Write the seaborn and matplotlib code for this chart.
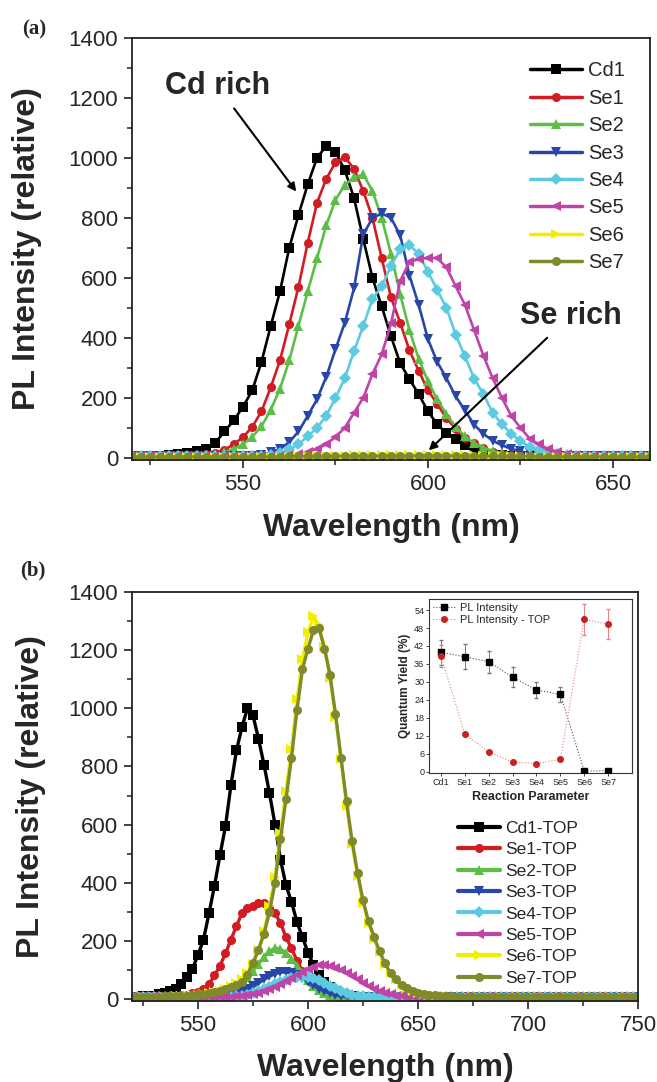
import numpy as np
import pandas as pd
import seaborn as sns
import matplotlib.pyplot as plt
from matplotlib.lines import Line2D
from matplotlib.ticker import MultipleLocator

# --- style ---
sns.set_theme(style="ticks")
plt.rcParams["font.family"] = ["Liberation Sans", "DejaVu Sans"]

# --- DATA: panel (a), PL spectra, 520-660 nm every 2.5 nm ---
wl_a = np.arange(520, 660.1, 2.5)
labels_a = ["Cd1", "Se1", "Se2", "Se3", "Se4", "Se5", "Se6", "Se7"]

cd1_a = [5, 5, 6, 7, 9, 12, 16, 22,
         30, 50, 88, 125, 170, 225, 320, 440,
         555, 700, 810, 912, 1000, 1040, 1020, 960,
         867, 730, 600, 505, 405, 315, 262, 212,
         155, 112, 82, 62, 44, 28, 18, 11,
         8, 6, 5, 5, 5, 5, 5, 5,
         5, 5, 5, 5, 5, 5, 5, 5,
         5]
se1_a = [5, 5, 5, 6, 6, 7, 9, 11,
         12, 17, 27, 45, 69, 103, 155, 235,
         325, 445, 570, 717, 850, 930, 985, 1003,
         964, 890, 800, 665, 535, 450, 358, 290,
         225, 180, 132, 97, 65, 50, 34, 18,
         12, 8, 6, 5, 5, 5, 5, 5,
         5, 5, 5, 5, 5, 5, 5, 5,
         5]
se2_a = [5, 5, 5, 5, 5, 6, 7, 8,
         10, 14, 20, 30, 45, 70, 105, 160,
         230, 325, 440, 555, 665, 775, 860, 910,
         935, 945, 890, 800, 680, 545, 425, 330,
         255, 195, 145, 103, 72, 48, 34, 23,
         15, 10, 7, 6, 5, 5, 5, 5,
         5, 5, 5, 5, 5, 5, 5, 5,
         5]
se3_a = [5, 5, 5, 5, 5, 5, 5, 5,
         5, 5, 5, 5, 5, 6, 10, 18,
         30, 52, 88, 140, 195, 270, 362, 450,
         565, 745, 800, 815, 800, 742, 608, 510,
         395, 320, 265, 205, 158, 110, 80, 57,
         42, 30, 22, 15, 10, 7, 6, 5,
         5, 5, 5, 5, 5, 5, 5, 5,
         5]
se4_a = [5, 5, 5, 5, 5, 5, 5, 5,
         5, 5, 5, 5, 5, 5, 6, 8,
         15, 28, 45, 72, 100, 140, 200, 265,
         355, 440, 530, 572, 640, 695, 710, 680,
         620, 560, 500, 410, 338, 264, 212, 150,
         112, 80, 57, 36, 25, 17, 12, 9,
         7, 6, 5, 5, 5, 5, 5, 5,
         5]
se5_a = [5, 5, 5, 5, 5, 5, 5, 5,
         5, 5, 5, 5, 5, 5, 5, 5,
         6, 8, 12, 20, 30, 45, 70, 100,
         150, 200, 280, 345, 448, 590, 654, 662,
         667, 666, 635, 572, 510, 425, 340, 265,
         200, 140, 100, 64, 45, 30, 20, 12,
         9, 7, 6, 5, 5, 5, 5, 5,
         5]
se6_a = [3, 3, 3, 3, 3, 3, 3, 3,
         3, 3, 3, 3, 3, 3, 3, 4,
         4, 4, 5, 5, 6, 6, 7, 7,
         8, 8, 9, 9, 9, 10, 10, 10,
         10, 10, 9, 9, 8, 8, 7, 6,
         6, 5, 5, 4, 4, 4, 3, 3,
         3, 3, 3, 3, 3, 3, 3, 3,
         3]
se7_a = [4, 4, 4, 4, 4, 4, 4, 4,
         4, 4, 4, 4, 4, 4, 4, 4,
         4, 5, 5, 5, 5, 5, 6, 6,
         6, 6, 6, 7, 7, 7, 7, 7,
         7, 7, 7, 7, 6, 6, 6, 6,
         5, 5, 5, 5, 4, 4, 4, 4,
         4, 4, 4, 4, 4, 4, 4, 4,
         4]

# --- DATA: panel (b), PL spectra after TOP, 520-750 nm every 2.5 nm ---
wl_b = np.arange(520, 750.1, 2.5)
labels_b = ["Cd1-TOP", "Se1-TOP", "Se2-TOP", "Se3-TOP",
            "Se4-TOP", "Se5-TOP", "Se6-TOP", "Se7-TOP"]

cd1_b = [8, 9, 10, 11, 13, 17, 22, 28,
         36, 53, 77, 105, 152, 205, 295, 390,
         495, 595, 737, 855, 936, 1000, 975, 895,
         806, 708, 600, 480, 391, 335, 265, 213,
         160, 118, 85, 60, 42, 30, 19, 13,
         10, 9, 8, 8, 7, 7, 7, 7,
         7, 7, 7, 7, 7, 7, 7, 7,
         7, 7, 7, 7, 7, 7, 7, 7,
         7, 7, 7, 7, 7, 7, 7, 7,
         7, 7, 7, 7, 7, 7, 7, 7,
         7, 7, 7, 7, 7, 7, 7, 7,
         7, 7, 7, 7,
         7]
se1_b = [7, 7, 7, 8, 8, 9, 10, 11,
         12, 14, 16, 20, 24, 36, 52, 82,
         115, 158, 205, 252, 296, 313, 322, 332,
         332, 312, 296, 262, 213, 175, 132, 96,
         74, 52, 35, 22, 15, 11, 9, 8,
         7, 7, 7, 7, 7, 7, 7, 7,
         7, 7, 7, 7, 7, 7, 7, 7,
         7, 7, 7, 7, 7, 7, 7, 7,
         7, 7, 7, 7, 7, 7, 7, 7,
         7, 7, 7, 7, 7, 7, 7, 7,
         7, 7, 7, 7, 7, 7, 7, 7,
         7, 7, 7, 7,
         7]
se2_b = [7, 7, 7, 7, 7, 7, 7, 7,
         7, 7, 7, 7, 7, 8, 9, 11,
         14, 20, 28, 40, 55, 75, 98, 122,
         145, 165, 176, 172, 160, 140, 115, 90,
         66, 47, 32, 22, 15, 11, 9, 8,
         7, 7, 7, 7, 7, 7, 7, 7,
         7, 7, 7, 7, 7, 7, 7, 7,
         7, 7, 7, 7, 7, 7, 7, 7,
         7, 7, 7, 7, 7, 7, 7, 7,
         7, 7, 7, 7, 7, 7, 7, 7,
         7, 7, 7, 7, 7, 7, 7, 7,
         7, 7, 7, 7,
         7]
se3_b = [7, 7, 7, 7, 7, 7, 7, 7,
         7, 7, 7, 7, 7, 7, 7, 8,
         9, 11, 14, 19, 26, 34, 44, 56,
         68, 79, 88, 93, 94, 90, 82, 72,
         60, 48, 37, 28, 21, 15, 12, 10,
         8, 7, 7, 7, 7, 7, 7, 7,
         7, 7, 7, 7, 7, 7, 7, 7,
         7, 7, 7, 7, 7, 7, 7, 7,
         7, 7, 7, 7, 7, 7, 7, 7,
         7, 7, 7, 7, 7, 7, 7, 7,
         7, 7, 7, 7, 7, 7, 7, 7,
         7, 7, 7, 7,
         7]
se4_b = [7, 7, 7, 7, 7, 7, 7, 7,
         7, 7, 7, 7, 7, 7, 7, 7,
         7, 8, 9, 11, 13, 16, 21, 27,
         34, 42, 51, 59, 67, 73, 77, 78,
         77, 73, 66, 57, 47, 38, 29, 22,
         16, 12, 10, 8, 7, 7, 7, 7,
         7, 7, 7, 7, 7, 7, 7, 7,
         7, 7, 7, 7, 7, 7, 7, 7,
         7, 7, 7, 7, 7, 7, 7, 7,
         7, 7, 7, 7, 7, 7, 7, 7,
         7, 7, 7, 7, 7, 7, 7, 7,
         7, 7, 7, 7,
         7]
se5_b = [7, 7, 7, 7, 7, 7, 7, 7,
         7, 7, 7, 7, 7, 7, 7, 7,
         7, 8, 9, 10, 12, 15, 18, 22,
         28, 35, 43, 52, 62, 73, 84, 95,
         105, 112, 117, 118, 115, 109, 101, 91,
         80, 68, 56, 45, 36, 28, 22, 17,
         13, 11, 9, 8, 7, 7, 7, 7,
         7, 7, 7, 7, 7, 7, 7, 7,
         7, 7, 7, 7, 7, 7, 7, 7,
         7, 7, 7, 7, 7, 7, 7, 7,
         7, 7, 7, 7, 7, 7, 7, 7,
         7, 7, 7, 7,
         7]
se6_b = [7, 7, 7, 8, 8, 8, 9, 9,
         10, 11, 12, 14, 16, 18, 22, 26,
         30, 36, 44, 55, 70, 90, 120, 170,
         235, 320, 420, 570, 715, 860, 1030, 1170,
         1260, 1315, 1285, 1210, 1105, 970, 825, 665,
         535, 425, 332, 262, 208, 162, 122, 90,
         68, 50, 38, 29, 23, 19, 15, 13,
         11, 10, 9, 8, 8, 7, 7, 7,
         7, 7, 7, 7, 7, 7, 7, 7,
         7, 7, 7, 7, 7, 7, 7, 7,
         7, 7, 7, 7, 7, 7, 7, 7,
         7, 7, 7, 7,
         7]
se7_b = [8, 8, 8, 9, 9, 9, 10, 10,
         11, 12, 13, 15, 17, 19, 22, 26,
         30, 35, 42, 50, 60, 85, 125, 170,
         225, 300, 400, 550, 687, 830, 995, 1135,
         1205, 1268, 1275, 1205, 1115, 980, 830, 680,
         545, 435, 340, 268, 215, 165, 124, 90,
         68, 50, 38, 29, 23, 19, 16, 14,
         12, 11, 10, 9, 9, 8, 8, 8,
         8, 8, 8, 8, 8, 8, 8, 8,
         8, 8, 8, 8, 8, 8, 8, 8,
         8, 8, 8, 8, 8, 8, 8, 8,
         8, 8, 8, 8,
         8]

# --- DATA: inset, quantum yield (%) ---
qy_cats = ["Cd1", "Se1", "Se2", "Se3", "Se4", "Se5", "Se6", "Se7"]
qy_pl = [39.9, 38.4, 36.7, 31.6, 27.3, 25.8, 0.2, 0.3]
qy_pl_err = [4.1, 4.1, 3.7, 3.3, 2.7, 2.4, 0.0, 0.0]
qy_top = [38.7, 12.5, 6.6, 3.2, 2.7, 4.1, 50.9, 49.3]
qy_top_err = [3.6, 0.5, 0.4, 0.3, 0.3, 0.4, 5.3, 5.0]

colors = ["#000000", "#d01c22", "#5cbf45", "#2846a8",
          "#5ccae0", "#c043a8", "#f2ee00", "#7f8a2c"]
markers = ["s", "o", "^", "v", "D", "<", ">", "o"]


def draw_spectra(ax, wl, series, labels, ms, lw):
    df = pd.DataFrame({
        "wl": np.tile(wl, len(series)),
        "I": np.concatenate([np.asarray(s, float) for s in series]),
        "sample": np.repeat(labels, len(wl)),
    })
    sns.lineplot(data=df, x="wl", y="I", hue="sample", style="sample",
                 hue_order=labels, style_order=labels,
                 palette=colors, markers=markers, dashes=False,
                 linewidth=lw, markersize=ms, markeredgewidth=0,
                 legend=False, ax=ax)
    handles = [Line2D([], [], color=c, marker=m, lw=lw + 0.6, ms=ms, mew=0)
               for c, m in zip(colors, markers)]
    return handles


def style_axes(ax, xmax):
    ax.set_xlim(520, xmax)
    ax.xaxis.set_major_locator(MultipleLocator(50))
    ax.xaxis.set_minor_locator(MultipleLocator(25))
    ax.yaxis.set_major_locator(MultipleLocator(200))
    ax.yaxis.set_minor_locator(MultipleLocator(100))
    ax.tick_params(which="major", direction="out", length=6, width=1.2,
                   labelsize=16, pad=4, color="#222222")
    ax.tick_params(which="minor", direction="out", length=3.5, width=1.1, color="#222222")
    ax.tick_params(top=False, right=False, which="both")
    for sp in ax.spines.values():
        sp.set_linewidth(1.3)
        sp.set_color("#222222")
    ax.set_xlabel("Wavelength (nm)", fontsize=23, fontweight="bold")
    ax.set_ylabel("PL Intensity (relative)", fontsize=23, fontweight="bold")


fig = plt.figure(figsize=(6.57, 10.82), dpi=100)
fig.patch.set_facecolor("white")

# ============================================================
# (a)
# ============================================================
ax_a = fig.add_axes([0.2009, 0.5749, 0.7884, 0.3900])
h_a = draw_spectra(ax_a, wl_a,
                   [cd1_a, se1_a, se2_a, se3_a, se4_a, se5_a, se6_a, se7_a],
                   labels_a, ms=6.5, lw=1.9)
style_axes(ax_a, 660)
ax_a.set_ylim(-7, 1400)
ax_a.xaxis.set_label_coords(0.5, -0.125)
ax_a.yaxis.set_label_coords(-0.174, 0.5)
ax_a.legend(h_a, labels_a, loc="upper left", bbox_to_anchor=(0.768, 0.945),
            frameon=False, fontsize=14.5, handlelength=2.6, handletextpad=0.3,
            labelspacing=0.42, borderpad=0, borderaxespad=0)

ax_a.annotate("Cd rich", xy=(564.4, 888), xytext=(543, 1241),
              ha="center", va="center", fontsize=22, fontweight="bold",
              arrowprops=dict(arrowstyle="-|>", color="black", lw=1.5,
                              mutation_scale=12, shrinkA=4, shrinkB=0))
ax_a.annotate("Se rich", xy=(600.2, 25), xytext=(638.5, 474),
              ha="center", va="center", fontsize=22, fontweight="bold",
              arrowprops=dict(arrowstyle="-|>", color="black", lw=1.5,
                              mutation_scale=12, shrinkA=4, shrinkB=0))

fig.text(22 / 657, 1 - 29 / 1082, "(a)", family="Liberation Serif",
         fontweight="bold", fontsize=15, ha="left", va="center")

# ============================================================
# (b)
# ============================================================
ax_b = fig.add_axes([0.2009, 0.0751, 0.7702, 0.3780])
h_b = draw_spectra(ax_b, wl_b,
                   [cd1_b, se1_b, se2_b, se3_b, se4_b, se5_b, se6_b, se7_b],
                   labels_b, ms=6.5, lw=2.4)
style_axes(ax_b, 750)
ax_b.set_ylim(-5, 1400)
ax_b.xaxis.set_label_coords(0.5, -0.128)
ax_b.yaxis.set_label_coords(-0.17, 0.5)
ax_b.legend(h_b, labels_b, loc="upper left", bbox_to_anchor=(0.644, 0.44),
            frameon=False, fontsize=12.5, handlelength=2.4, handletextpad=0.3,
            labelspacing=0.36, borderpad=0, borderaxespad=0)

fig.text(20 / 657, 1 - 570 / 1082, "(b)", family="Liberation Serif",
         fontweight="bold", fontsize=15, ha="left", va="center")

# --- inset: quantum yield ---
ins = fig.add_axes([0.653, 0.2856, 0.309, 0.1605])
ins.set_facecolor("white")
ins.errorbar(qy_cats, qy_pl, yerr=qy_pl_err, fmt="s", ls=":", lw=0.8,
             color="#555555", mfc="black", mec="black", ms=3.8,
             ecolor="#777777", elinewidth=0.7, capsize=1.5, zorder=3)
ins.errorbar(qy_cats, qy_top, yerr=qy_top_err, fmt="o", ls=":", lw=0.8,
             color="#e88080", mfc="#cc1f1f", mec="#cc1f1f", ms=4.0,
             ecolor="#e88080", elinewidth=0.7, capsize=1.5, zorder=3)
ins.set_xlim(-0.5, 8.0)
ins.set_ylim(-0.45, 57.6)
ins.yaxis.set_major_locator(MultipleLocator(6))
ins.tick_params(labelsize=6.5, length=2, width=0.6, pad=1.5, direction="out")
for sp in ins.spines.values():
    sp.set_linewidth(0.8)
    sp.set_color("#333333")
ins.set_xlabel("Reaction Parameter", fontsize=9, fontweight="bold", labelpad=3)
ins.set_ylabel("Quantum Yield (%)", fontsize=8.5, fontweight="bold", labelpad=2)
ins_handles = [
    Line2D([], [], color="#555555", ls=":", lw=0.8, marker="s", ms=3.8,
           mfc="black", mec="black"),
    Line2D([], [], color="#e88080", ls=":", lw=0.8, marker="o", ms=4.0,
           mfc="#cc1f1f", mec="#cc1f1f"),
]
ins.legend(ins_handles, ["PL Intensity", "PL Intensity - TOP"], loc="upper left",
           bbox_to_anchor=(0.01, 0.99), frameon=False, fontsize=8,
           handlelength=2.0, handletextpad=0.4, labelspacing=0.15,
           borderpad=0.2, borderaxespad=0)

fig.savefig("out.png", dpi=100)
